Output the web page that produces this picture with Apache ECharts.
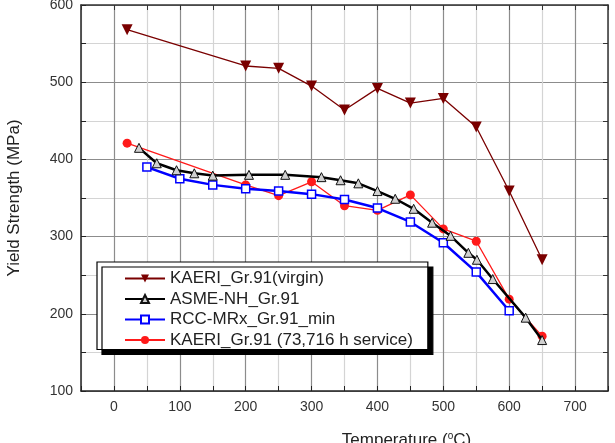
<!DOCTYPE html>
<html>
<head>
<meta charset="utf-8">
<script src="https://cdn.jsdelivr.net/npm/echarts@6/dist/echarts.min.js"></script>
<style>
    html, body { margin: 0; padding: 0; background: #fff; }
    #main { width: 615px; height: 443px; }
</style>
</head>
<body>
<div id="main"></div>
<script>
// 数据 (温度 °C, 屈服强度 MPa)
var virginTemp = [20, 200, 250, 300, 350, 400, 450, 500, 550, 600, 650];
var virginYS = [568, 521, 518, 495, 464, 492, 473, 479, 442, 359, 270];

var asmeTemp = [38, 65, 95, 122, 150, 205, 260, 315, 344, 371, 400, 427, 455, 483, 511, 538, 551, 575, 625, 650];
var asmeYS = [415, 395, 386, 382, 379, 380, 380, 377, 373, 369, 359, 349, 336, 318, 301, 279, 270, 245, 195, 166];

var rccTemp = [50, 100, 150, 200, 250, 300, 350, 400, 450, 500, 550, 600];
var rccYS = [390, 375, 367, 362, 359, 355, 348, 337, 319, 292, 254, 204];

var serviceTemp = [20, 200, 250, 300, 350, 400, 450, 500, 550, 600, 650];
var serviceYS = [421, 367, 353, 371, 340, 334, 354, 310, 294, 219, 171];

var seriesNames = ['KAERI_Gr.91(virgin)', 'ASME-NH_Gr.91', 'RCC-MRx_Gr.91_min', 'KAERI_Gr.91 (73,716 h service)'];

function pairs(xs, ys) {
    var out = [];
    for (var i = 0; i < xs.length; i++) {
        out.push([xs[i], ys[i]]);
    }
    return out;
}

var font = "'Liberation Sans', Arial, sans-serif";

var myChart = echarts.init(document.getElementById('main'));

var option = {
    animation: false,
    backgroundColor: '#fff',
    grid: {
        left: 81,
        right: 7,
        top: 5,
        bottom: 52,
        outerBoundsMode: 'none'
    },
    legend: {
        data: seriesNames,
        orient: 'vertical',
        left: 97,
        top: 262,
        padding: [8, 15, 1, 27],
        itemGap: 3.5,
        itemWidth: 40,
        itemHeight: 10,
        backgroundColor: '#fff',
        borderColor: '#000',
        borderWidth: 1.2,
        borderRadius: 0,
        shadowColor: '#000',
        shadowBlur: 0,
        shadowOffsetX: 5,
        shadowOffsetY: 5,
        textStyle: {
            fontFamily: font,
            fontSize: 17,
            color: '#222',
            lineHeight: 17
        }
    },
    xAxis: [{
        type: 'value',
        min: -50,
        max: 750,
        interval: 50,
        name: 'Temperature ({sup|o}C)',
        nameLocation: 'middle',
        nameGap: 40,
        nameTextStyle: {
            fontFamily: font,
            fontSize: 17,
            color: '#222',
            padding: [0, 0, 0, 124],
            rich: {
                sup: { fontFamily: font, fontSize: 10, color: '#222', padding: [0, 0, 8, 0] }
            }
        },
        axisLine: { onZero: false, lineStyle: { color: '#222', width: 1.5 } },
        axisTick: { inside: true, length: 5, lineStyle: { color: '#222' } },
        axisLabel: {
            margin: 9,
            fontFamily: font,
            fontSize: 14,
            color: '#333',
            formatter: function(v) {
                return (v >= 0 && v % 100 === 0) ? String(v) : '';
            }
        },
        splitLine: {
            show: true,
            lineStyle: { color: ['#d4d4d4', '#8c8c8c'], width: 1.2 }
        }
    }, {
        type: 'value',
        position: 'top',
        min: -50,
        max: 750,
        interval: 50,
        axisLine: { show: true, onZero: false, lineStyle: { color: '#333', width: 1.5 } },
        axisTick: { inside: true, length: 5, lineStyle: { color: '#333' } },
        axisLabel: { show: false },
        splitLine: { show: false }
    }],
    yAxis: [{
        type: 'value',
        min: 100,
        max: 600,
        interval: 50,
        name: 'Yield Strength (MPa)',
        nameLocation: 'middle',
        nameGap: 58,
        nameTextStyle: {
            fontFamily: font,
            fontSize: 17,
            color: '#222'
        },
        axisLine: { show: true, onZero: false, lineStyle: { color: '#222', width: 1.5 } },
        axisTick: { show: true, inside: true, length: 5, lineStyle: { color: '#222' } },
        axisLabel: {
            margin: 8,
            fontFamily: font,
            fontSize: 14,
            color: '#333',
            formatter: function(v) {
                return v % 100 === 0 ? String(v) : '';
            }
        },
        splitLine: {
            show: true,
            lineStyle: { color: ['#8c8c8c', '#d4d4d4'], width: 1.2 }
        }
    }, {
        type: 'value',
        position: 'right',
        min: 100,
        max: 600,
        interval: 50,
        axisLine: { show: true, onZero: false, lineStyle: { color: '#333', width: 1.5 } },
        axisTick: { show: true, inside: true, length: 5, lineStyle: { color: '#333' } },
        axisLabel: { show: false },
        splitLine: { show: false }
    }],
    series: [{
            name: seriesNames[0],
            type: 'line',
            data: pairs(virginTemp, virginYS),
            symbol: 'triangle',
            symbolRotate: 180,
            symbolSize: 11,
            lineStyle: { color: '#7a0000', width: 1.3 },
            itemStyle: { color: '#7a0000' },
            z: 2
        },
        {
            name: seriesNames[3],
            type: 'line',
            data: pairs(serviceTemp, serviceYS),
            symbol: 'circle',
            symbolSize: 9,
            lineStyle: { color: '#ff1a1a', width: 1.3 },
            itemStyle: { color: '#ff1a1a' },
            z: 3
        },
        {
            name: seriesNames[2],
            type: 'line',
            data: pairs(rccTemp, rccYS),
            symbol: 'rect',
            symbolSize: 8,
            lineStyle: { color: '#0000ff', width: 2.5 },
            itemStyle: { color: '#fff', borderColor: '#0000ff', borderWidth: 1.5 },
            z: 4
        },
        {
            name: seriesNames[1],
            type: 'line',
            data: pairs(asmeTemp, asmeYS),
            symbol: 'triangle',
            symbolSize: 9,
            lineStyle: { color: '#000', width: 2.5 },
            itemStyle: { color: '#d0d0d0', borderColor: '#111', borderWidth: 1 },
            z: 5
        }
    ]
};

myChart.setOption(option);
</script>
</body>
</html>
